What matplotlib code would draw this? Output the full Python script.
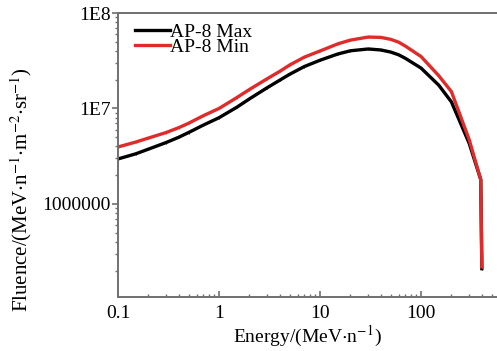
import matplotlib.pyplot as plt
from matplotlib.ticker import FixedLocator, FixedFormatter, LogLocator, NullFormatter

plt.rcParams['font.family'] = ['Liberation Serif', 'DejaVu Serif']
plt.rcParams['mathtext.fontset'] = 'stix'

# values (energy in MeV/n, fluence)
energy = [0.1, 0.15, 0.2, 0.3, 0.4, 0.5, 0.7, 1, 1.5, 2, 3, 4, 5, 7, 10, 15,
          20, 30, 40, 50, 60, 70, 100, 150, 200, 300, 390, 400]
ap8_max = [2.96e6, 3.35e6, 3.75e6, 4.4e6, 5.0e6, 5.6e6, 6.7e6, 8.0e6, 1.03e7,
           1.26e7, 1.65e7, 1.98e7, 2.28e7, 2.75e7, 3.2e7, 3.72e7, 4.02e7,
           4.2e7, 4.1e7, 3.9e7, 3.65e7, 3.35e7, 2.65e7, 1.75e7, 1.17e7,
           4.3e6, 1.8e6, 2.1e5]
ap8_min = [3.95e6, 4.45e6, 4.9e6, 5.6e6, 6.3e6, 7.0e6, 8.4e6, 1.0e7, 1.3e7,
           1.58e7, 2.05e7, 2.45e7, 2.85e7, 3.45e7, 4.0e7, 4.75e7, 5.2e7,
           5.6e7, 5.55e7, 5.3e7, 4.95e7, 4.5e7, 3.5e7, 2.2e7, 1.5e7,
           4.7e6, 1.8e6, 2.2e5]

ytick_vals = [1e6, 1e7, 1e8]
ytick_labels = ['1000000', '1E7', '1E8']
xtick_vals = [0.1, 1, 10, 100]
xtick_labels = ['0.1', '1', '10', '100']

fig = plt.figure(figsize=(4.97, 3.51), dpi=100)
ax = fig.add_axes([118 / 497, 1 - 297 / 351, 1 - 118 / 497, 284 / 351])

ax.plot(energy, ap8_max, color='black', lw=2.4, marker='|', ms=2, mew=0.6,
        solid_joinstyle='round', label='AP-8 Max')
ax.plot(energy, ap8_min, color='#e02b2b', lw=2.4, marker='|', ms=2, mew=0.6,
        solid_joinstyle='round', label='AP-8 Min')

ax.set_xscale('log')
ax.set_yscale('log')
ax.set_xlim(0.1, 565)
ax.set_ylim(1.06e5, 1e8)

ax.xaxis.set_major_locator(FixedLocator(xtick_vals))
ax.xaxis.set_major_formatter(FixedFormatter(xtick_labels))
ax.xaxis.set_minor_locator(LogLocator(base=10, subs=range(2, 10)))
ax.xaxis.set_minor_formatter(NullFormatter())
ax.yaxis.set_major_locator(FixedLocator(ytick_vals))
ax.yaxis.set_major_formatter(FixedFormatter(ytick_labels))
ax.yaxis.set_minor_locator(LogLocator(base=10, subs=range(2, 10)))
ax.yaxis.set_minor_formatter(NullFormatter())

ax.tick_params(axis='x', which='both', direction='in', labelsize=14,
               color='#707070', pad=6)
ax.tick_params(axis='x', which='major', length=4, width=1.2)
ax.tick_params(axis='x', which='minor', length=2.5, width=1)
ax.tick_params(axis='y', which='both', direction='out', labelsize=14,
               color='#707070', pad=1)
ax.tick_params(axis='y', which='major', length=4, width=1.2)
ax.tick_params(axis='y', which='minor', length=2.5, width=1)

for side in ['left', 'bottom', 'top']:
    ax.spines[side].set_color('#707070')
    ax.spines[side].set_linewidth(1.4)
ax.spines['right'].set_visible(False)

ax.set_xlabel('Energy/(MeV$\\cdot$n$^{-1}$)', fontsize=14, labelpad=1)
ax.set_ylabel('Fluence/(MeV$\\cdot$n$^{-1}$$\\cdot$m$^{-2}$$\\cdot$sr$^{-1}$)',
              fontsize=15)
ax.yaxis.set_label_coords(-0.222, 0.38)

ax.legend(loc='upper left', bbox_to_anchor=(0.045, 0.965), frameon=False,
          fontsize=14, handlelength=1.8, handletextpad=0.0,
          labelspacing=-0.1, borderaxespad=0.0, borderpad=0.0)

fig.savefig('out.png', dpi=100)
